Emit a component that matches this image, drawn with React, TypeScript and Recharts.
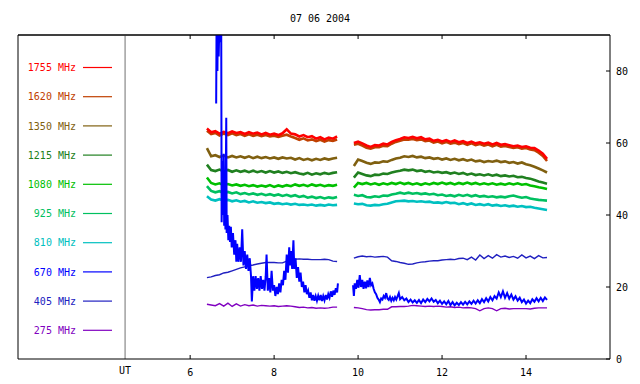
import React from 'react';
import { LineChart, Line, XAxis, YAxis, ReferenceLine, Legend } from 'recharts';

const TITLE = '07 06 2004';
const FONT = "'DejaVu Sans Mono', monospace";

// UT hours, 0.1 h steps; the 9.7 slot is the data gap
const HOURS = [
  6.4, 6.5, 6.6, 6.7, 6.8, 6.9, 7.0, 7.1,
  7.2, 7.3, 7.4, 7.5, 7.6, 7.7, 7.8, 7.9,
  8.0, 8.1, 8.2, 8.3, 8.4, 8.5, 8.6, 8.7,
  8.8, 8.9, 9.0, 9.1, 9.2, 9.3, 9.4, 9.5,
  9.7,
  9.9, 10.0, 10.1, 10.2, 10.3, 10.4, 10.5, 10.6,
  10.7, 10.8, 10.9, 11.0, 11.1, 11.2, 11.3, 11.4,
  11.5, 11.6, 11.7, 11.8, 11.9, 12.0, 12.1, 12.2,
  12.3, 12.4, 12.5, 12.6, 12.7, 12.8, 12.9, 13.0,
  13.1, 13.2, 13.3, 13.4, 13.5, 13.6, 13.7, 13.8,
  13.9, 14.0, 14.1, 14.2, 14.3, 14.4, 14.5,
];

const MHZ_1755 = [
  64.0, 63.0, 63.3, 62.6, 63.1, 62.7, 63.2, 62.8,
  63.0, 62.5, 63.0, 62.6, 62.9, 62.4, 62.8, 62.3,
  62.6, 62.2, 62.7, 63.8, 62.6, 62.4, 61.8, 62.2,
  61.6, 61.9, 61.2, 61.6, 61.0, 61.5, 61.2, 61.8,
  null,
  60.0, 60.4, 59.9, 59.3, 58.9, 59.4, 59.3, 59.8,
  59.6, 60.3, 60.8, 61.1, 61.6, 61.4, 61.7, 61.3,
  61.6, 61.0, 61.2, 60.6, 60.9, 60.4, 60.8, 60.3,
  60.7, 60.2, 60.5, 60.0, 60.4, 59.9, 60.2, 59.8,
  60.1, 59.6, 60.0, 59.5, 59.7, 59.4, 59.1, 59.3,
  58.9, 59.1, 58.7, 58.6, 57.9, 57.0, 55.6,
];

const MHZ_1620 = [
  63.4, 62.5, 62.8, 62.1, 62.6, 62.2, 62.7, 62.2,
  62.5, 62.0, 62.4, 62.0, 62.3, 61.9, 62.2, 61.8,
  62.0, 61.7, 62.0, 62.3, 61.8, 61.4, 60.9, 61.3,
  60.7, 61.0, 60.5, 60.9, 60.4, 60.8, 60.6, 61.0,
  null,
  59.5, 59.8, 59.3, 58.7, 58.4, 58.8, 58.8, 59.2,
  59.1, 59.8, 60.3, 60.6, 61.0, 60.9, 61.1, 60.8,
  61.0, 60.5, 60.7, 60.1, 60.4, 59.9, 60.3, 59.8,
  60.1, 59.7, 60.0, 59.5, 59.9, 59.4, 59.7, 59.3,
  59.6, 59.1, 59.5, 59.0, 59.2, 58.9, 58.6, 58.8,
  58.4, 58.6, 58.2, 58.0, 57.3, 56.4, 55.0,
];

const MHZ_1350 = [
  58.6, 56.3, 56.6, 56.1, 56.5, 56.0, 56.4, 56.0,
  56.3, 55.9, 56.3, 55.8, 56.2, 55.8, 56.1, 55.7,
  56.0, 55.6, 56.0, 55.7, 55.9, 55.4, 55.8, 55.3,
  55.6, 55.2, 55.6, 55.3, 55.7, 55.4, 55.7, 55.9,
  null,
  53.6, 55.4, 55.0, 54.5, 54.2, 54.6, 54.5, 54.9,
  54.8, 55.3, 55.7, 55.9, 56.3, 56.1, 56.4, 56.0,
  56.2, 55.8, 56.0, 55.6, 55.8, 55.4, 55.7, 55.3,
  55.6, 55.2, 55.5, 55.1, 55.4, 54.9, 55.1, 54.7,
  55.0, 54.8, 55.1, 54.7, 54.9, 54.5, 54.7, 54.3,
  54.6, 54.1, 53.8, 53.4, 52.9, 52.4, 51.8,
];

const MHZ_1215 = [
  54.0, 52.5, 52.2, 52.6, 52.1, 52.5, 52.0, 52.4,
  52.0, 52.3, 51.9, 52.3, 51.9, 52.2, 51.8, 52.2,
  51.8, 52.1, 51.7, 52.0, 51.6, 51.9, 51.5, 51.3,
  51.7, 51.2, 51.6, 51.3, 51.7, 51.4, 51.7, 51.9,
  null,
  50.4, 51.8, 51.4, 51.0, 50.8, 51.2, 51.1, 51.5,
  51.4, 51.8, 52.1, 52.3, 52.6, 52.4, 52.6, 52.2,
  52.4, 52.0, 52.2, 51.8, 52.0, 51.7, 51.9, 51.5,
  51.8, 51.4, 51.7, 51.2, 51.5, 51.1, 51.3, 51.0,
  51.3, 50.9, 51.2, 50.8, 51.0, 50.7, 50.9, 50.5,
  50.6, 50.3, 50.1, 49.7, 49.3, 49.0, 48.7,
];

const MHZ_1080 = [
  50.4, 48.9, 48.5, 48.8, 48.3, 48.6, 48.2, 48.5,
  48.1, 48.4, 48.0, 48.3, 47.9, 48.2, 47.9, 48.3,
  47.8, 48.2, 47.9, 48.3, 48.0, 48.5, 48.1, 48.4,
  48.0, 48.5, 48.1, 48.4, 48.0, 48.3, 48.1, 48.4,
  null,
  47.6, 48.9, 48.6, 48.9, 48.5, 48.8, 48.4, 48.8,
  48.5, 48.9, 48.6, 49.0, 48.6, 48.9, 48.5, 48.8,
  48.4, 48.8, 48.5, 48.9, 48.6, 49.0, 48.6, 48.9,
  48.5, 48.9, 48.6, 49.0, 48.6, 48.9, 48.5, 48.8,
  48.5, 48.8, 48.4, 48.7, 48.4, 48.8, 48.5, 48.8,
  48.4, 48.6, 48.2, 48.0, 47.7, 47.5, 47.2,
];

const MHZ_925 = [
  48.0, 46.7, 46.3, 46.6, 46.1, 46.4, 46.0, 46.3,
  45.8, 46.1, 45.7, 46.0, 45.6, 45.9, 45.5, 45.8,
  45.4, 45.7, 45.3, 45.6, 45.2, 45.5, 45.0, 45.3,
  44.8, 45.1, 44.7, 45.0, 44.6, 44.9, 44.7, 45.0,
  null,
  45.6, 45.3, 45.5, 45.0, 44.9, 45.2, 45.0, 45.4,
  45.3, 45.7, 45.9, 46.2, 45.9, 46.2, 45.9, 46.1,
  45.8, 46.0, 45.7, 45.9, 45.5, 45.7, 45.3, 45.5,
  45.2, 45.6, 45.3, 45.6, 45.2, 45.5, 45.1, 45.3,
  45.0, 45.2, 44.9, 45.1, 44.9, 45.2, 45.4, 45.1,
  44.8, 45.0, 44.6, 44.4, 44.2, 44.1, 44.0,
];

const MHZ_810 = [
  45.2, 44.3, 44.0, 44.4, 43.9, 44.2, 43.8, 44.1,
  43.7, 43.9, 43.5, 43.8, 43.4, 43.6, 43.3, 43.5,
  43.1, 43.3, 43.0, 43.2, 42.9, 43.1, 42.8, 42.9,
  42.7, 42.9, 42.6, 42.8, 42.6, 42.9, 42.7, 42.8,
  null,
  43.2, 43.0, 43.1, 42.7, 42.6, 42.8, 42.7, 43.0,
  43.1, 43.5, 43.8, 43.9, 44.0, 43.8, 43.9, 43.7,
  43.8, 43.6, 43.7, 43.4, 43.5, 43.3, 43.6, 43.3,
  43.4, 43.0, 43.3, 42.9, 43.2, 42.8, 43.0, 42.7,
  43.0, 42.6, 42.8, 42.5, 42.7, 42.4, 42.6, 42.3,
  42.5, 42.2, 42.3, 42.0, 41.8, 41.6, 41.4,
];

const MHZ_405 = [
  22.6, 22.8, 23.2, 23.4, 23.9, 24.1, 24.5, 24.9,
  25.3, 25.6, 25.9, 26.1, 26.4, 26.6, 26.8, 26.8,
  26.8, 26.7, 26.7, 27.2, 27.6, 27.7, 27.8, 27.7,
  27.7, 27.6, 27.6, 27.6, 27.7, 27.6, 27.2, 27.1,
  null,
  28.0, 28.4, 28.6, 28.4, 28.5, 28.3, 28.4, 28.5,
  28.3, 27.3, 27.1, 26.8, 26.6, 26.3, 26.4, 26.7,
  26.9, 27.0, 27.2, 27.3, 27.3, 27.5, 27.6, 27.7,
  27.6, 27.9, 28.0, 27.6, 28.3, 27.5, 28.9, 27.9,
  28.7, 28.0, 29.0, 28.3, 28.6, 28.2, 28.5, 28.0,
  28.9, 28.1, 28.6, 27.9, 28.7, 28.1, 28.2,
];

const MHZ_275 = [
  15.2, 15.0, 14.8, 15.4, 14.7, 15.5, 14.6, 15.3,
  14.7, 15.1, 14.8, 15.0, 14.7, 14.9, 14.8, 14.7,
  14.8, 14.6, 14.7, 14.8, 14.7, 14.5, 14.3, 14.4,
  14.2, 14.3, 14.1, 14.2, 14.1, 14.2, 14.4, 14.4,
  null,
  14.3, 14.2, 14.0, 13.7, 13.6, 13.7, 13.7, 13.8,
  13.8, 14.5, 14.5, 14.6, 14.6, 14.7, 14.9, 14.8,
  14.7, 14.6, 14.7, 14.6, 14.7, 14.6, 14.4, 14.5,
  14.3, 14.4, 14.2, 14.3, 14.2, 14.0, 13.4, 14.0,
  14.2, 14.0, 13.4, 14.0, 14.1, 13.9, 14.0, 14.0,
  14.0, 14.0, 13.9, 14.1, 14.2, 14.2, 14.2,
];

// 670 MHz is sampled finer: [hour, value]
const POINTS_670: [number, number | null][] = [
  [6.62, 71], [6.63, 95], [6.65, 80], [6.66, 95], [6.68, 84], [6.7, 95], [6.72, 88], [6.74, 95],
  [6.75, 38], [6.77, 55], [6.78, 40], [6.8, 57], [6.81, 37], [6.83, 52], [6.84, 36], [6.86, 67],
  [6.87, 35], [6.89, 40], [6.91, 33], [6.93, 37], [6.95, 32.5], [6.97, 36.7], [6.99, 31],
  [7.02, 35], [7.05, 29], [7.08, 33], [7.1, 27], [7.12, 32], [7.15, 27], [7.18, 31], [7.21, 27],
  [7.24, 36], [7.27, 26], [7.3, 30], [7.33, 25], [7.36, 29], [7.39, 24.5], [7.42, 28], [7.45, 23],
  [7.47, 16], [7.5, 23], [7.53, 19], [7.56, 23], [7.59, 19.5], [7.62, 22.5], [7.65, 19], [7.68, 23],
  [7.71, 19.5], [7.74, 22], [7.77, 19], [7.8, 23], [7.82, 29], [7.85, 19], [7.88, 22.5], [7.91, 18.5],
  [7.94, 24.5], [7.97, 19], [8.0, 20.5], [8.03, 17.5], [8.06, 20], [8.09, 18], [8.12, 21], [8.15, 18.5],
  [8.18, 22], [8.21, 20.5], [8.24, 24.5], [8.27, 22], [8.3, 29], [8.33, 24], [8.36, 31], [8.38, 26],
  [8.4, 30], [8.43, 25], [8.46, 33], [8.48, 25], [8.51, 28], [8.54, 22.5], [8.57, 25.5], [8.6, 21.5],
  [8.63, 24], [8.66, 20], [8.69, 21.5], [8.72, 18.5], [8.75, 20.5], [8.78, 18], [8.81, 19], [8.84, 17],
  [8.87, 18.5], [8.9, 16.3], [8.93, 17.8], [8.96, 16.2], [8.99, 17.5], [9.02, 16.2], [9.05, 17.6], [9.08, 16.3],
  [9.11, 17.8], [9.14, 16.1], [9.17, 17.5], [9.2, 16.3], [9.23, 17.8], [9.26, 16.5], [9.29, 18], [9.32, 17],
  [9.35, 18.8], [9.38, 17.3], [9.41, 19], [9.44, 17.8], [9.47, 19.7], [9.5, 18.5], [9.52, 21],
  [9.7, null],
  [9.88, 20.5], [9.9, 17.5], [9.92, 21], [9.95, 19.5], [9.98, 22], [10.01, 19.8], [10.04, 23.3], [10.07, 20],
  [10.1, 22], [10.13, 19.5], [10.16, 21.5], [10.19, 19.6], [10.22, 21.8], [10.25, 20], [10.28, 22.5], [10.31, 20.5],
  [10.34, 21], [10.37, 19.5], [10.4, 18.5], [10.43, 18], [10.46, 17], [10.49, 16.5], [10.52, 15.8], [10.55, 16.8],
  [10.58, 16.5], [10.61, 17.5], [10.64, 17], [10.67, 18.3], [10.7, 16.8], [10.73, 16.4], [10.76, 17.2], [10.79, 16.2],
  [10.82, 17], [10.85, 16.3], [10.88, 17.2], [10.91, 16.5], [10.94, 17.4], [10.97, 18.3], [11.0, 16.6], [11.05, 17.2],
  [11.1, 16.3], [11.15, 16.8], [11.2, 15.8], [11.25, 16.5], [11.3, 15.7], [11.35, 16.3], [11.4, 15.6], [11.45, 16.4],
  [11.5, 15.5], [11.55, 16.5], [11.6, 15.8], [11.65, 16.7], [11.7, 16], [11.75, 16.8], [11.8, 15.9], [11.85, 16.4],
  [11.9, 15.5], [11.95, 16.2], [12.0, 15.3], [12.05, 16], [12.1, 15.2], [12.15, 16.1], [12.2, 15], [12.25, 15.8],
  [12.3, 14.9], [12.35, 15.6], [12.4, 15], [12.45, 15.8], [12.5, 15.1], [12.55, 15.9], [12.6, 15.2], [12.65, 16],
  [12.7, 15.3], [12.75, 16.2], [12.8, 15.4], [12.85, 16.3], [12.9, 15.5], [12.95, 16.6], [13.0, 15.8], [13.05, 16.9],
  [13.1, 16], [13.15, 17.2], [13.2, 16.3], [13.25, 17.5], [13.3, 16.8], [13.35, 18.5], [13.4, 17.2], [13.45, 18.8],
  [13.5, 17], [13.55, 18.3], [13.6, 16.8], [13.65, 17.9], [13.7, 16.5], [13.75, 17.4], [13.8, 16.2], [13.85, 17],
  [13.9, 15.8], [13.95, 16.5], [14.0, 15.4], [14.05, 16.2], [14.1, 15.5], [14.15, 16.6], [14.2, 15.9], [14.25, 16.9],
  [14.3, 16], [14.35, 17], [14.4, 16.1], [14.45, 17.1], [14.5, 16.4],
];

const UT_HOUR = 4.45;
const X_DOMAIN = [1.9, 16];
const X_TICKS = [UT_HOUR, 6, 8, 10, 12, 14];
const TOP_TICKS = [6, 8, 10, 12, 14];
const Y_TICKS = [0, 20, 40, 60, 80];

// legend order
const SERIES = [
  { key: 'f1755', label: '1755 MHz', color: '#ff0000', values: MHZ_1755 },
  { key: 'f1620', label: '1620 MHz', color: '#c04000', values: MHZ_1620 },
  { key: 'f1350', label: '1350 MHz', color: '#806010', values: MHZ_1350 },
  { key: 'f1215', label: '1215 MHz', color: '#208020', values: MHZ_1215 },
  { key: 'f1080', label: '1080 MHz', color: '#00c000', values: MHZ_1080 },
  { key: 'f925', label: '925 MHz', color: '#00c060', values: MHZ_925 },
  { key: 'f810', label: '810 MHz', color: '#00c0c0', values: MHZ_810 },
  { key: 'f670', label: '670 MHz', color: '#0000ff', values: null },
  { key: 'f405', label: '405 MHz', color: '#2020c0', values: MHZ_405 },
  { key: 'f275', label: '275 MHz', color: '#8000c0', values: MHZ_275 },
];

const rows = HOURS.map((h, i) => {
  const row: Record<string, number | null> = { h };
  SERIES.forEach((s) => {
    if (s.values) row[s.key] = s.values[i];
  });
  return row;
});

const rows670 = POINTS_670.map(([h, v]) => ({ h, f670: v }));

// painting order: low frequencies first, 670 on top
const DRAW_ORDER = ['f275', 'f405', 'f810', 'f925', 'f1080', 'f1215', 'f1350', 'f1620', 'f1755'];

function BottomTick(props: any) {
  const { x, y, payload } = props;
  const isUt = payload.value === UT_HOUR;
  return (
    <g>
      {!isUt && <line x1={x} y1={y} x2={x} y2={y - 4} stroke="#000" />}
      <text x={x} y={y + (isUt ? 15 : 17)} textAnchor="middle" fontFamily={FONT} fontSize={10} fill="#000">
        {isUt ? 'UT' : payload.value}
      </text>
    </g>
  );
}

function TopTick(props: any) {
  const { x, y } = props;
  return <line x1={x} y1={y} x2={x} y2={y + 4} stroke="#000" />;
}

function RightTick(props: any) {
  const { x, y, payload } = props;
  return (
    <g>
      <line x1={x - 4} y1={y} x2={x} y2={y} stroke="#000" />
      <text x={x + 6} y={y + 3.6} textAnchor="start" fontFamily={FONT} fontSize={10} fill="#000">
        {payload.value}
      </text>
    </g>
  );
}

function SeriesLegend() {
  return (
    <svg width={125} height={384}>
      {SERIES.map((s, i) => {
        const y = 67.5 + i * 29.2;
        return (
          <g key={s.key}>
            <text x={76} y={y + 3.6} textAnchor="end" fontFamily={FONT} fontSize={10} fill={s.color}>
              {s.label}
            </text>
            <line x1={83} y1={y} x2={112} y2={y} stroke={s.color} strokeWidth={1.2} />
          </g>
        );
      })}
    </svg>
  );
}

export default function App() {
  const byKey = Object.fromEntries(SERIES.map((s) => [s.key, s]));
  return (
    <div style={{ position: 'absolute', left: 0, top: 0, width: 640, height: 384, background: '#fff' }}>
      <svg width={640} height={30} style={{ position: 'absolute', left: 0, top: 0 }}>
        <text x={320} y={21.6} textAnchor="middle" fontFamily={FONT} fontSize={10} fill="#000">
          {TITLE}
        </text>
      </svg>
      <LineChart width={640} height={384} data={rows} margin={{ top: 34, right: 0, bottom: 0, left: 18 }}>
        <XAxis
          dataKey="h"
          type="number"
          domain={X_DOMAIN}
          ticks={X_TICKS}
          tickSize={0}
          tickMargin={0}
          tickLine={false}
          height={25}
          axisLine={{ stroke: '#000' }}
          tick={<BottomTick />}
          allowDataOverflow
        />
        <XAxis
          xAxisId="top"
          orientation="top"
          dataKey="h"
          type="number"
          domain={X_DOMAIN}
          ticks={TOP_TICKS}
          tickSize={0}
          tickMargin={0}
          tickLine={false}
          height={1}
          axisLine={{ stroke: '#000' }}
          tick={<TopTick />}
          allowDataOverflow
        />
        <YAxis
          orientation="right"
          type="number"
          domain={[0, 90]}
          ticks={Y_TICKS}
          width={30}
          tickSize={0}
          tickMargin={0}
          tickLine={false}
          axisLine={{ stroke: '#000' }}
          tick={<RightTick />}
          allowDataOverflow
        />
        <ReferenceLine x={X_DOMAIN[0]} stroke="#000" />
        <ReferenceLine y={90} stroke="#000" />
        <ReferenceLine x={UT_HOUR} stroke="#707070" />
        {DRAW_ORDER.map((k) => {
          const s = byKey[k];
          const thin = k === 'f405' || k === 'f275';
          return (
            <Line
              key={k}
              dataKey={k}
              stroke={s.color}
              strokeWidth={thin ? 1.4 : 2.6}
              dot={false}
              activeDot={false}
              connectNulls={false}
              isAnimationActive={false}
            />
          );
        })}
        <Line
          data={rows670}
          dataKey="f670"
          stroke="#0000ff"
          strokeWidth={2}
          dot={false}
          activeDot={false}
          connectNulls={false}
          isAnimationActive={false}
        />
        <Legend
          layout="vertical"
          align="center"
          verticalAlign="middle"
          width={125}
          height={384}
          wrapperStyle={{ left: 0, top: 0, width: 125, height: 384 }}
          content={() => <SeriesLegend />}
        />
      </LineChart>
    </div>
  );
}
